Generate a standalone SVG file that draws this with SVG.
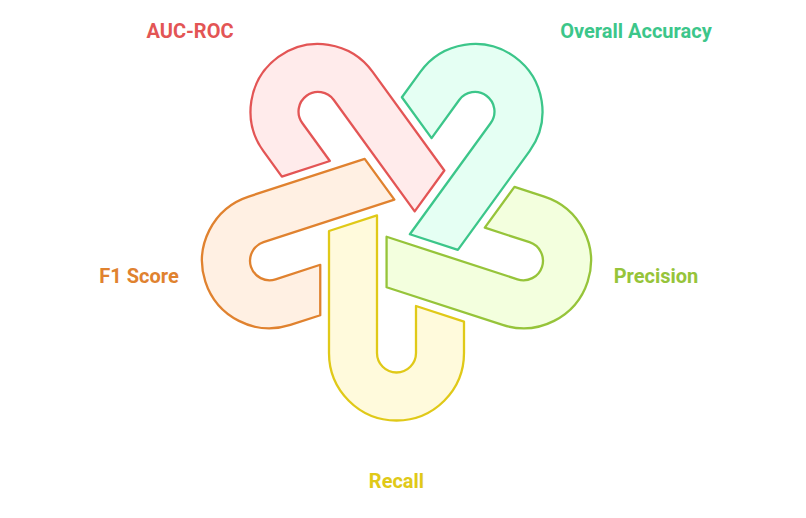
<svg xmlns="http://www.w3.org/2000/svg" width="806" height="518" viewBox="0 0 806 518">
<defs>
<style>
.hook{stroke-width:2.3;stroke-linejoin:round}
.lbl{font-family:Roboto,"Liberation Sans",sans-serif;font-weight:bold;font-size:20px;text-anchor:middle}
</style>
<path id="hookShape" d="M-67.5,-122 L-67.5,0 A67.5,67.5 0 0 0 67.5,0 L67.5,-31.4 L19.5,-47 L19.5,0 A19.5,19.5 0 0 1 -19.5,0 L-19.5,-137.6 Z"/>
</defs>
<rect width="806" height="518" fill="#ffffff"/>
<g id="recall">
<use href="#hookShape" class="hook" fill="#FFFADC" stroke="#E0C918" transform="translate(396.5,219.5) rotate(0) translate(0,133.5)"/>
<text class="lbl" x="396.5" y="487.5" fill="#E0C918">Recall</text>
</g>
<g id="f1score">
<use href="#hookShape" class="hook" fill="#FFF0E3" stroke="#E0822F" transform="translate(396.5,219.5) rotate(72) translate(0,133.5)"/>
<text class="lbl" x="139" y="283" fill="#E0822F">F1 Score</text>
</g>
<g id="aucroc">
<use href="#hookShape" class="hook" fill="#FFEBEB" stroke="#E35555" transform="translate(396.5,219.5) rotate(144) translate(0,133.5)"/>
<text class="lbl" x="190" y="37.5" fill="#E35555">AUC-ROC</text>
</g>
<g id="overallaccuracy">
<use href="#hookShape" class="hook" fill="#E5FFF3" stroke="#3CC68A" transform="translate(396.5,219.5) rotate(216) translate(0,133.5)"/>
<text class="lbl" x="636" y="37.5" fill="#3CC68A">Overall Accuracy</text>
</g>
<g id="precision">
<use href="#hookShape" class="hook" fill="#F3FFDE" stroke="#96C43A" transform="translate(396.5,219.5) rotate(288) translate(0,133.5)"/>
<text class="lbl" x="656" y="283" fill="#96C43A">Precision</text>
</g>
<g id="connectors"></g>
</svg>
